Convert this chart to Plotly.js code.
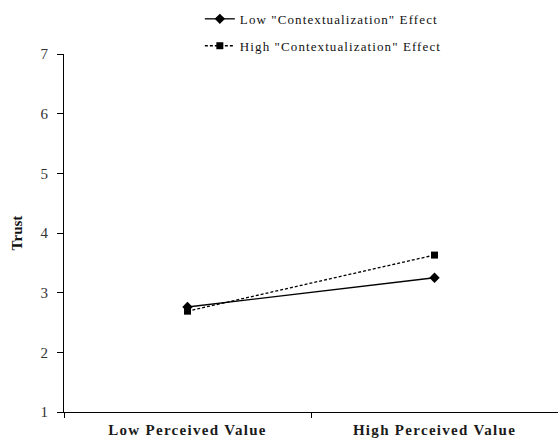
<!DOCTYPE html>
<html><head><meta charset="utf-8">
<script src="https://cdn.plot.ly/plotly-3.0.1.min.js"></script>
<style>
html,body{margin:0;padding:0;background:#fff}
#chart .xtick text{letter-spacing:1.3px}
#chart .legendtext{letter-spacing:1.1px}
#chart .legend .scrollbox{clip-path:none !important}
</style>
</head><body>
<div id="chart" style="width:558px;height:441px"></div>
<script>
const categories = ['Low Perceived Value', 'High Perceived Value'];
const lowEffect = [2.76, 3.25];
const highEffect = [2.69, 3.63];
const seriesNames = ['Low "Contextualization" Effect', 'High "Contextualization" Effect'];
const yTicks = [1, 2, 3, 4, 5, 6, 7];

const serif = 'Liberation Serif, Times New Roman, serif';
const traces = [
  {x: categories, y: lowEffect, name: seriesNames[0], type: 'scatter', mode: 'lines+markers',
   legendgroup: 'a',
   line: {color: '#000', width: 1.3}, marker: {symbol: 'diamond', size: 8, color: '#000'}},
  {x: categories, y: highEffect, name: seriesNames[1], type: 'scatter', mode: 'lines+markers',
   legendgroup: 'b',
   line: {color: '#000', width: 1.3, dash: '3px,2px'}, marker: {symbol: 'square', size: 7, color: '#000'}}
];
const layout = {
  width: 558, height: 441,
  margin: {l: 64, r: 0, t: 54, b: 29},
  paper_bgcolor: '#fff', plot_bgcolor: '#fff',
  showlegend: true,
  legend: {x: 0.275, xanchor: 'left', y: 1.14, yanchor: 'top', traceorder: 'grouped', tracegroupgap: 7,
           font: {family: serif, size: 13, color: '#111'}, bgcolor: 'rgba(0,0,0,0)'},
  xaxis: {type: 'category', range: [-0.5, 1.5], tickson: 'boundaries', ticks: 'outside', ticklen: 5,
          tickcolor: '#000', showline: true, linecolor: '#000', linewidth: 1, showgrid: false, zeroline: false,
          ticklabelstandoff: 4,
          tickfont: {family: serif, size: 15, color: '#1a1a1a', weight: 'bold'}, fixedrange: true},
  yaxis: {range: [1, 7], tickvals: yTicks, ticks: 'outside', ticklen: 6, tickcolor: '#000',
          showline: true, linecolor: '#000', linewidth: 1, showgrid: false, zeroline: false,
          ticklabelstandoff: 6,
          tickfont: {family: serif, size: 15, color: '#333'},
          title: {text: '<b>Trust</b>', font: {family: serif, size: 15, color: '#111'}, standoff: 14}}
};
Plotly.newPlot('chart', traces, layout, {displayModeBar: false, staticPlot: true});
</script>
</body></html>
